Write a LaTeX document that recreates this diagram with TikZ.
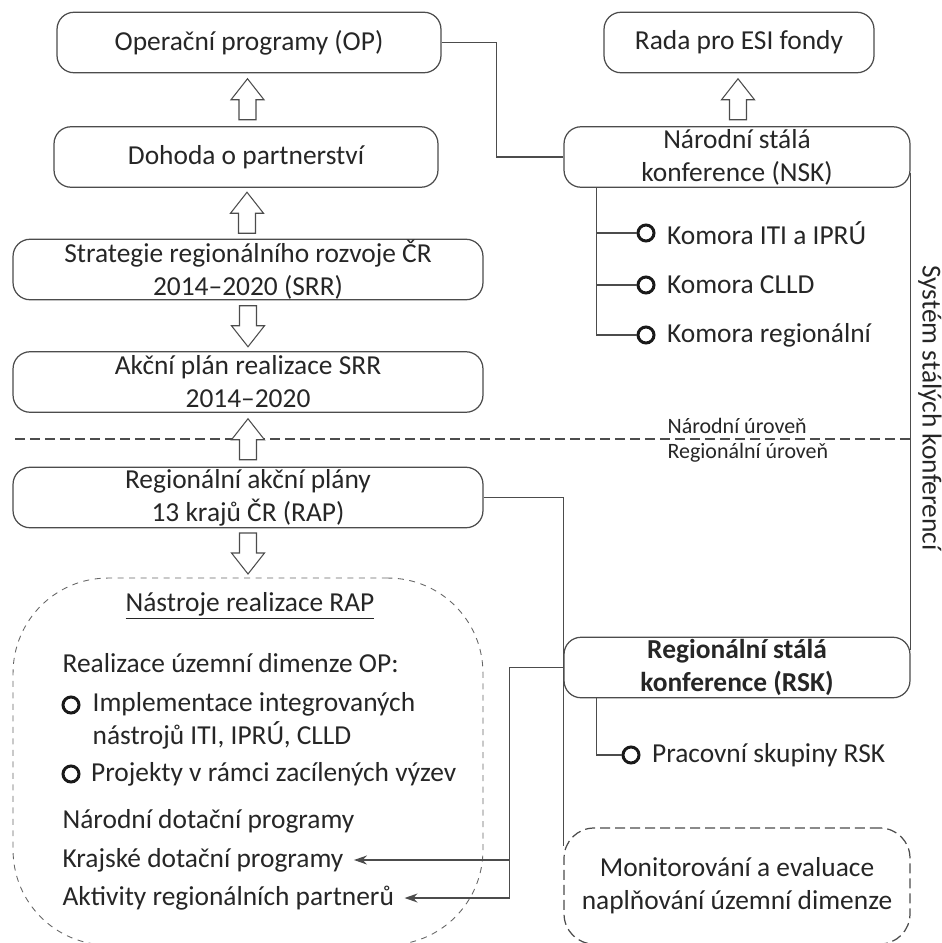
\documentclass[tikz,border=0pt]{standalone}
\usepackage{fontspec}
\setmainfont{Carlito}
\usetikzlibrary{arrows.meta,positioning,calc}

\begin{document}
\begin{tikzpicture}[
    x = 0.02cm, y = -0.02cm, % one unit = one pixel of the sketch, y runs down
    > = {Stealth[length=0.26cm,width=0.18cm]}, % arrow head style
    inner sep = 0pt,
    line width = 0.7pt,
    font = \fontsize{15.6}{18.8}\selectfont,
    every node/.style = {text = black!85}
    ]

    \tikzset{
    box/.style = {draw = black!70, rounded corners = 0.34cm, align = center,
        minimum height = 1.21cm},
    widebox/.style = {box, minimum width = 9.4cm},
    dashbox/.style = {draw = black!70, dashed, dash pattern = on 0.2cm off 0.1cm},
    link/.style = {draw = black!70},
    bullet/.style = {circle, draw = black!90, line width = 1.7pt, minimum size = 0.32cm},
    level/.style = {font = \fontsize{12.5}{15}\selectfont},
    blockup/.pic = {\draw[black!70, line width = 0.6pt, fill = white]
        (-8.5,20) -- (-8.5,0) -- (-16.5,0) -- (0,-21) -- (16.5,0) -- (8.5,0) -- (8.5,20) -- cycle;},
    blockdown/.pic = {\draw[black!70, line width = 0.6pt, fill = white]
        (-8.5,-20) -- (-8.5,0) -- (-16.5,0) -- (0,21) -- (16.5,0) -- (8.5,0) -- (8.5,-20) -- cycle;}
    }

    \useasboundingbox (0,0) rectangle (941,943);

    % left column
    \node[box, minimum width = 7.68cm] (op) at (249,42.5) {Operační programy (OP)};
    \node[box, minimum width = 7.68cm] (dohoda) at (246,157) {Dohoda o partnerství};
    \node[widebox] (srr) at (248,269.5) {Strategie regionálního rozvoje ČR\\2014–2020 (SRR)};
    \node[widebox] (akcni) at (248,382) {Akční plán realizace SRR\\2014–2020};
    \node[widebox] (rap) at (248,497.5) {Regionální akční plány\\13 krajů ČR (RAP)};

    % right column
    \node[box, minimum width = 5.4cm] (rada) at (739,42.5) {Rada pro ESI fondy};
    \node[box, minimum width = 6.92cm] (nsk) at (737,157) {Národní stálá\\konference (NSK)};
    \node[box, minimum width = 6.92cm, font = \fontsize{15.6}{18.8}\selectfont\bfseries]
        (rsk) at (737,667.5) {Regionální stálá\\konference (RSK)};
    \node[dashbox, rounded corners = 0.6cm, align = center, minimum width = 6.92cm,
        minimum height = 2.32cm] (monit) at (737,886) {Monitorování a evaluace\\naplňování územní dimenze};

    % national / regional level
    \draw[dashbox] (15,439) -- (910,439);
    \node[level, anchor = west] (natlvl) at (667,426) {Národní úroveň};
    \node[level, anchor = west] (reglvl) at (667,453) {Regionální úroveň};

    % tools of the RAP
    \node[draw = black!60, line width = 0.5pt, dashed, dash pattern = on 0.12cm off 0.11cm,
        rounded corners = 1.9cm, minimum width = 9.4cm, minimum height = 7.34cm] (tools) at (248,761.5) {};
    \node (title) at (250,606) {\underline{Nástroje realizace RAP}};
    \node[anchor = west] (realiz) at (62,663) {Realizace územní dimenze OP:};
    \node[bullet] (b5) at (71,705) {};
    \node[anchor = west, align = left] (impl) at (92,721) {Implementace integrovaných\\nástrojů ITI, IPRÚ, CLLD};
    \node[bullet] (b6) at (71,774) {};
    \node[right = 0.2cm of b6] (proj) {Projekty v rámci zacílených výzev};
    \node[anchor = west] (narodni) at (62,821) {Národní dotační programy};
    \node[anchor = west] (krajske) at (62,860) {Krajské dotační programy};
    \node[anchor = west] (aktivity) at (62,898) {Aktivity regionálních partnerů};

    % block arrows
    \pic at ($(op.south)!.5!(dohoda.north)$) {blockup};
    \pic at ($(dohoda.south)!.5!(srr.north)$) {blockup};
    \pic at ($(srr.south)!.5!(akcni.north)$) {blockdown};
    \pic at ($(akcni.south)!.5!(rap.north)$) {blockup};
    \pic at ($(rap.south)!.5!(tools.north)$) {blockdown};
    \pic at ($(rada.south)!.5!(nsk.north)$) {blockup};

    % chambers of the NSK
    \node[bullet] (b1) at (646,233) {};
    \node[bullet] (b2) at (646,285) {};
    \node[bullet] (b3) at (646,335) {};
    \node[right = 0.22cm of b1] (iti) {Komora ITI a IPRÚ};
    \node[right = 0.22cm of b2] (clld) {Komora CLLD};
    \node[right = 0.22cm of b3] (regio) {Komora regionální};
    \coordinate (nsktrunk) at ([xshift = 0.66cm]nsk.south west);
    \draw[link] (nsktrunk) |- (b3.west);
    \draw[link] (nsktrunk |- b1) -- (b1.west);
    \draw[link] (nsktrunk |- b2) -- (b2.west);

    % working groups of the RSK
    \node[bullet] (b4) at (631,755) {};
    \node[right = 0.22cm of b4] (pracovni) {Pracovní skupiny RSK};
    \coordinate (rsktrunk) at ([xshift = 0.66cm]rsk.south west);
    \draw[link] (rsktrunk) |- (b4.west);

    % system of standing conferences
    \draw[link] ([yshift = -0.32cm]nsk.east) -- ([yshift = 0.35cm]rsk.east);
    \node[rotate = -90] (system) at (930,408) {Systém stálých konferencí};

    % connectors
    \draw[link] (op.east) -- ++(55,0) |- (nsk.west);
    \draw[link] (rap.east) -| ([yshift = -0.38cm]monit.north west);
    \draw[link] (rsk.west) -- ++(-54,0) coordinate (rskbend);
    \draw[link, ->, shorten > = 0.2cm] (rskbend) |- (aktivity.east);
    \draw[link, ->, shorten > = 0.2cm] (rskbend |- krajske.east) -- (krajske.east);
\end{tikzpicture}
\end{document}
